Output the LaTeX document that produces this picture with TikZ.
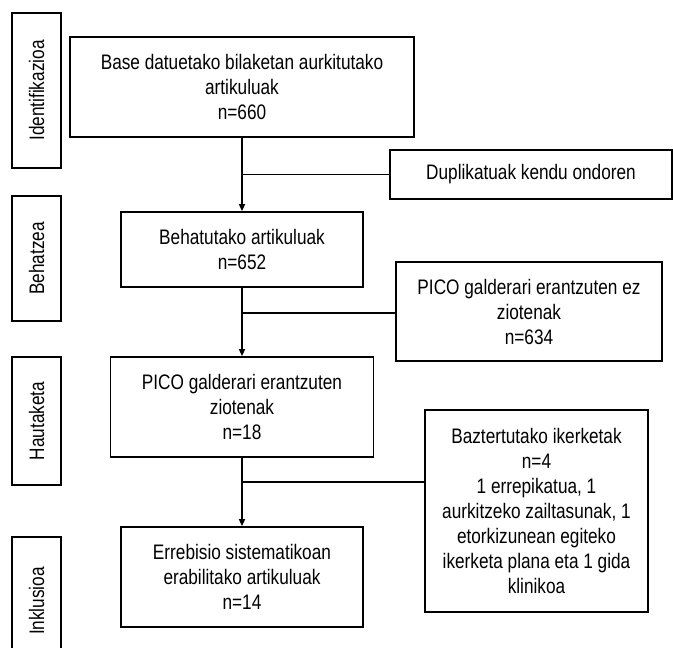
\documentclass[tikz,border=0pt]{standalone}
\usepackage{fontspec}
\setmainfont{Liberation Sans}[FakeStretch=0.82]
\usepackage{tikz}
\usetikzlibrary{arrows.meta}
\usetikzlibrary{shapes,arrows,positioning}
\usetikzlibrary{calc}

\begin{document}
\begin{tikzpicture}[
    x=1pt, y=-1pt,
    stage/.style={rectangle, rotate=90, minimum height=49pt, inner sep=0pt, text centered, draw=black, line width=1.8pt, font=\fontsize{21}{25}\selectfont},
    process/.style={rectangle, inner sep=0pt, align=center, draw=black, line width=1.8pt, font=\fontsize{21}{25}\selectfont},
    excl/.style={rectangle, inner sep=0pt, align=center, draw=black, line width=1.8pt, font=\fontsize{21}{25}\selectfont},
    arrow/.style={-{Triangle[length=7pt, width=6pt]}, line width=1.8pt},
    branch/.style={line width=1.8pt}
]
\useasboundingbox (0,0) rectangle (673,648);
\clip (0,0) rectangle (673,648);

% Stages
\node (st1) [stage, minimum width=155pt] at (36.5,90.5) {Identifikazioa};
\node (st2) [stage, minimum width=125pt] at (36.5,258.5) {Behatzea};
\node (st3) [stage, minimum width=128pt] at (36.5,421) {Hautaketa};
\node (st4) [stage, minimum width=128pt] at (36.5,601) {Inklusioa};

% Nodes
\node (base) [process, minimum width=344pt, minimum height=100pt] at (242,87) {Base datuetako bilaketan aurkitutako\\artikuluak\\n=660};
\node (beh) [process, minimum width=242pt, minimum height=75pt] at (242,249.5) {Behatutako artikuluak\\n=652};
\node (pico) [process, minimum width=263pt, minimum height=100pt] at (242,407) {PICO galderari erantzuten\\ziotenak\\n=18};
\node (err) [process, minimum width=242pt, minimum height=100pt] at (242,577) {Errebisio sistematikoan\\erabilitako artikuluak\\n=14};

\node (dup) [excl, minimum width=282pt, minimum height=49pt] at (531,174.5) {Duplikatuak kendu ondoren};
\node (ez) [excl, minimum width=266pt, minimum height=99pt] at (529,311.5) {PICO galderari erantzuten ez\\ziotenak\\n=634};
\node (baz) [excl, minimum width=223pt, minimum height=202pt] at (536.5,511) {Baztertutako ikerketak\\n=4\\1 errepikatua, 1\\aurkitzeko zailtasunak, 1\\etorkizunean egiteko\\ikerketa plana eta 1 gida\\klinikoa};

\coordinate (j1) at (base.south |- dup.west);
\coordinate (j2) at (beh.south |- 0,313);
\coordinate (j3) at (pico.south |- 0,482);

% Arrows
\draw [arrow] (base) -- (beh);
\draw [arrow] (beh) -- (pico);
\draw [arrow] (pico) -- (err);
\draw [branch] (dup.west) -- (j1);
\draw [branch] (j2) -- (j2 -| ez.west);
\draw [branch] (j3) -- (j3 -| baz.west);

\end{tikzpicture}
\end{document}
